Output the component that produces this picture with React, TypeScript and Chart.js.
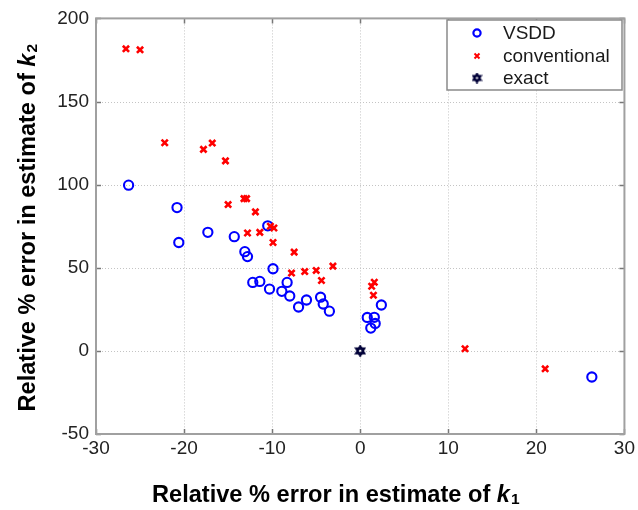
import React, { useEffect, useRef } from "react";
import { Chart, registerables } from "chart.js";
Chart.register(...registerables);

const xTicks = [-30, -20, -10, 0, 10, 20, 30];
const yTicks = [-50, 0, 50, 100, 150, 200];

const vsddK1 = [-26.3, -20.8, -20.6, -17.3, -14.3, -13.1, -12.8, -10.5, -9.9, -12.2, -11.4, -10.3, -8.9, -8.3, -8.0, -7.0, -6.1, -4.5, -4.2, -3.5, 2.4, 0.8, 1.6, 1.7, 1.2, 26.3];
const vsddK2 = [99.7, 86.2, 65.2, 71.3, 68.7, 59.7, 56.7, 75.2, 49.4, 41.2, 41.8, 37.2, 35.8, 41.2, 33.0, 26.4, 30.6, 32.3, 28.2, 23.9, 27.6, 20.1, 20.2, 16.5, 13.7, -15.7];

const convK1 = [-26.6, -25.0, -22.2, -17.8, -16.8, -15.3, -15.0, -13.2, -12.9, -11.9, -12.8, -11.4, -10.2, -9.8, -9.9, -7.5, -7.8, -6.3, -5.0, -3.1, -4.4, 1.3, 1.6, 1.5, 11.9, 21.0];
const convK2 = [181.7, 181.1, 125.2, 121.2, 125.0, 114.3, 88.0, 91.6, 91.6, 83.6, 70.9, 71.3, 75.0, 73.9, 65.2, 59.4, 46.8, 47.7, 48.4, 51.0, 42.3, 38.9, 41.3, 33.5, 1.3, -10.8];

const exactK1 = [0];
const exactK2 = [0];

const seriesLabels = ["VSDD", "conventional", "exact"];
const xTitle = ["Relative % error in estimate of ", "k", "1"];
const yTitle = ["Relative % error in estimate of ", "k", "2"];

const FONT = '"Liberation Sans", Arial, Helvetica, sans-serif';
const BLUE = "#0000ff";
const RED = "#ff0000";
const NAVY = "#000038";

function makeHexagram(size: number, color: string, lw: number) {
  const c = document.createElement("canvas");
  c.width = size;
  c.height = size;
  const ctx = c.getContext("2d")!;
  const cx = size / 2, cy = size / 2, r = size / 2 - lw / 2 - 0.3;
  ctx.strokeStyle = color;
  ctx.lineWidth = lw;
  for (const off of [-Math.PI / 2, Math.PI / 2]) {
    ctx.beginPath();
    for (let i = 0; i < 3; i++) {
      const a = off + (i * 2 * Math.PI) / 3;
      const x = cx + r * Math.cos(a), y = cy + r * Math.sin(a);
      if (i) ctx.lineTo(x, y); else ctx.moveTo(x, y);
    }
    ctx.closePath();
    ctx.stroke();
  }
  return c;
}

function toPts(xs: number[], ys: number[]) {
  return xs.map((x, i) => ({ x, y: ys[i] }));
}

function drawTitle(ctx: CanvasRenderingContext2D, parts: string[], x: number, y: number, align: "left" | "center") {
  const main = `bold 23.6px ${FONT}`;
  const ital = `italic bold 23.6px ${FONT}`;
  const sub = `bold 15.5px ${FONT}`;
  ctx.font = main;
  const w0 = ctx.measureText(parts[0]).width;
  ctx.font = ital;
  const w1 = ctx.measureText(parts[1]).width;
  ctx.font = sub;
  const w2 = ctx.measureText(parts[2]).width;
  const total = w0 + w1 + w2 + 1;
  let sx = align === "center" ? x - total / 2 : x;
  ctx.textBaseline = "alphabetic";
  ctx.textAlign = "left";
  ctx.fillStyle = "#000";
  ctx.font = main;
  ctx.fillText(parts[0], sx, y);
  sx += w0;
  ctx.font = ital;
  ctx.fillText(parts[1], sx, y);
  sx += w1 + 1;
  ctx.font = sub;
  ctx.fillText(parts[2], sx, y + 2);
}

const framePlugin = {
  id: "frame",
  beforeDatasetsDraw(chart: any) {
    const { ctx, chartArea: a, scales } = chart;
    const xs = scales.x, ys = scales.y;
    ctx.save();
    ctx.strokeStyle = "#c4c4c4";
    ctx.lineWidth = 1;
    ctx.setLineDash([1, 2]);
    for (const v of xTicks) {
      const px = Math.round(xs.getPixelForValue(v)) + 0.5;
      ctx.beginPath();
      ctx.moveTo(px, a.top);
      ctx.lineTo(px, a.bottom);
      ctx.stroke();
    }
    for (const v of yTicks) {
      const py = Math.round(ys.getPixelForValue(v)) + 0.5;
      ctx.beginPath();
      ctx.moveTo(a.left, py);
      ctx.lineTo(a.right, py);
      ctx.stroke();
    }
    ctx.setLineDash([]);
    // inward tick marks
    ctx.strokeStyle = "#777";
    ctx.lineWidth = 1.5;
    const tl = 5;
    for (const v of xTicks) {
      const px = Math.round(xs.getPixelForValue(v)) + 0.5;
      ctx.beginPath();
      ctx.moveTo(px, a.bottom);
      ctx.lineTo(px, a.bottom - tl);
      ctx.moveTo(px, a.top);
      ctx.lineTo(px, a.top + tl);
      ctx.stroke();
    }
    for (const v of yTicks) {
      const py = Math.round(ys.getPixelForValue(v)) + 0.5;
      ctx.beginPath();
      ctx.moveTo(a.left, py);
      ctx.lineTo(a.left + tl, py);
      ctx.moveTo(a.right, py);
      ctx.lineTo(a.right - tl, py);
      ctx.stroke();
    }
    // box
    ctx.strokeStyle = "#a0a0a0";
    ctx.lineWidth = 2;
    ctx.strokeRect(a.left, a.top, a.right - a.left, a.bottom - a.top);
    ctx.restore();
  },
  afterDraw(chart: any) {
    const { ctx, chartArea: a } = chart;
    ctx.save();
    // x title
    drawTitle(ctx, xTitle, 152, 501.5, "left");
    // y title
    ctx.translate(35, (a.top + a.bottom) / 2 + 1.5);
    ctx.rotate(-Math.PI / 2);
    drawTitle(ctx, yTitle, 0, 0, "center");
    ctx.restore();

    // legend
    ctx.save();
    const lx = 447, ly = 20, lw = 175, lh = 70;
    ctx.fillStyle = "#fff";
    ctx.fillRect(lx, ly, lw, lh);
    ctx.strokeStyle = "#8a8a8a";
    ctx.lineWidth = 1.5;
    ctx.strokeRect(lx, ly, lw, lh);
    const rows = [33, 56, 78];
    const mx = 477;
    // VSDD circle
    ctx.strokeStyle = BLUE;
    ctx.lineWidth = 2.2;
    ctx.beginPath();
    ctx.arc(mx, rows[0], 3.6, 0, Math.PI * 2);
    ctx.stroke();
    // conventional x
    ctx.strokeStyle = RED;
    ctx.lineWidth = 2;
    ctx.beginPath();
    ctx.moveTo(mx - 2.5, rows[1] - 2.5);
    ctx.lineTo(mx + 2.5, rows[1] + 2.5);
    ctx.moveTo(mx + 2.5, rows[1] - 2.5);
    ctx.lineTo(mx - 2.5, rows[1] + 2.5);
    ctx.stroke();
    // exact hexagram
    const hex = makeHexagram(11, NAVY, 2);
    ctx.drawImage(hex, mx - 5.5, rows[2] - 5.5);
    ctx.fillStyle = "#1a1a1a";
    ctx.font = `19px ${FONT}`;
    ctx.textAlign = "left";
    ctx.textBaseline = "middle";
    seriesLabels.forEach((t, i) => ctx.fillText(t, 503, rows[i] + 1));
    ctx.restore();
  },
};

export default function App() {
  const ref = useRef<HTMLCanvasElement | null>(null);
  useEffect(() => {
    if (!ref.current) return;
    const hex = makeHexagram(12, NAVY, 2.2);
    const chart = new Chart(ref.current, {
      type: "scatter",
      data: {
        datasets: [
          {
            label: seriesLabels[1],
            data: toPts(convK1, convK2),
            pointStyle: "crossRot",
            pointRadius: 4.4,
            borderColor: RED,
            backgroundColor: RED,
            pointBorderWidth: 2.6,
          },
          {
            label: seriesLabels[0],
            data: toPts(vsddK1, vsddK2),
            pointStyle: "circle",
            pointRadius: 4.6,
            borderColor: BLUE,
            backgroundColor: "rgba(0,0,0,0)",
            pointBorderWidth: 2.1,
          },
          {
            label: seriesLabels[2],
            data: toPts(exactK1, exactK2),
            pointStyle: hex as any,
            pointRadius: 6,
            borderColor: NAVY,
            backgroundColor: NAVY,
          },
        ],
      },
      options: {
        animation: false,
        responsive: false,
        devicePixelRatio: 1,
        layout: { padding: { top: 15, right: 11, left: 0, bottom: 0 } },
        plugins: { legend: { display: false }, tooltip: { enabled: false } },
        scales: {
          x: {
            type: "linear",
            min: -30,
            max: 30,
            afterBuildTicks: (s: any) => {
              s.ticks = xTicks.map((v) => ({ value: v }));
            },
            afterFit: (s: any) => {
              s.height = 76;
            },
            grid: { display: false, drawTicks: false },
            border: { display: false },
            ticks: {
              font: { family: FONT, size: 19 },
              color: "#222",
              padding: 3,
              maxRotation: 0,
              autoSkip: false,
            },
          },
          y: {
            type: "linear",
            min: -50,
            max: 200,
            afterBuildTicks: (s: any) => {
              s.ticks = yTicks.map((v) => ({ value: v }));
            },
            afterFit: (s: any) => {
              s.width = 96;
            },
            grid: { display: false, drawTicks: false },
            border: { display: false },
            ticks: {
              font: { family: FONT, size: 19 },
              color: "#222",
              padding: 7,
              autoSkip: false,
            },
          },
        },
      },
      plugins: [framePlugin],
    });
    return () => chart.destroy();
  }, []);
  return (
    <div style={{ position: "fixed", left: 0, top: 0, width: 638, height: 510, background: "#fff" }}>
      <canvas ref={ref} width={638} height={510} style={{ display: "block", width: 638, height: 510 }} />
    </div>
  );
}
